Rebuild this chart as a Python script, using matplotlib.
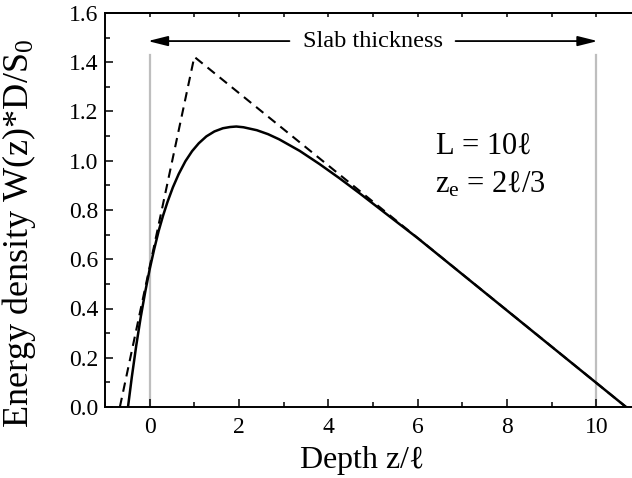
import matplotlib
matplotlib.use("Agg")
import matplotlib.pyplot as plt
from matplotlib.ticker import MultipleLocator, FormatStrFormatter

plt.rcParams['font.family'] = ['Liberation Serif', 'DejaVu Serif']
plt.rcParams['mathtext.fontset'] = 'stix'
plt.rcParams['mathtext.default'] = 'regular'

# Energy density for the exponential source (solid curve)
solid_z = [-0.485, -0.4, -0.3, -0.2, -0.1, 0.0, 0.1, 0.2, 0.3, 0.4, 0.52, 0.65,
           0.8, 0.95, 1.1, 1.27, 1.45, 1.64, 1.8, 1.94, 2.1, 2.4, 2.65, 2.9,
           3.36, 3.8, 4.25, 4.7, 5.37, 6.0, 7.0, 8.0, 9.0, 10.0, 10.667]
solid_w = [0.0, 0.121, 0.250, 0.365, 0.467, 0.559, 0.640, 0.714, 0.777, 0.833, 0.892, 0.946,
           0.998, 1.039, 1.071, 1.099, 1.119, 1.132, 1.137, 1.139, 1.136, 1.124, 1.108, 1.087,
           1.040, 0.987, 0.929, 0.868, 0.774, 0.686, 0.539, 0.392, 0.245, 0.098, 0.0]

# Point source at z = l (dashed triangle)
dashed_z = [-0.667, 1.0, 10.667]
dashed_w = [0.0, 1.422, 0.0]

# Slab faces
faces = [0, 10]
face_top = 1.43

fig = plt.figure(figsize=(6.32, 4.78), dpi=100)
ax = fig.add_axes([105/632, 71/478, 527/632, 394/478])

for zf in faces:
    ax.plot([zf, zf], [0, face_top], color='#bebebe', lw=1.6, zorder=1)

ax.plot(dashed_z, dashed_w, color='black', lw=1.5, linestyle=(0, (4.5, 3)), zorder=2)
ax.plot(solid_z, solid_w, color='black', lw=1.8, zorder=3)

ax.set_xlim(-1.0, 10.8)
ax.set_ylim(0, 1.6)

ax.xaxis.set_major_locator(MultipleLocator(2))
ax.xaxis.set_minor_locator(MultipleLocator(1))
ax.yaxis.set_major_locator(MultipleLocator(0.2))
ax.yaxis.set_minor_locator(MultipleLocator(0.1))
ax.yaxis.set_major_formatter(FormatStrFormatter('%.1f'))

ax.tick_params(which='both', direction='in', width=1.1, labelsize=17)
ax.tick_params(which='major', length=6)
ax.tick_params(which='minor', length=3.6)
ax.tick_params(axis='x', pad=7)
ax.tick_params(axis='y', pad=5)

for s in ['left', 'bottom', 'top']:
    ax.spines[s].set_linewidth(1.4)
ax.spines['right'].set_visible(False)

top = ax.secondary_xaxis('top')
top.set_xticks(range(0, 11))
top.tick_params(direction='in', length=3, width=1.1, labeltop=False)
top.spines['top'].set_linewidth(1.4)

ax.set_xlabel(r'Depth z/$\ell$', fontsize=23)
ax.set_ylabel('Energy density W(z)*D/S$_0$', fontsize=26)
ax.xaxis.set_label_coords(0.486, -0.095)
ax.yaxis.set_label_coords(-0.128, 0.44)

# Slab thickness arrows
arrow_y = 1.486
ax.text(5.0, arrow_y, 'Slab thickness', fontsize=17.5, ha='center', va='center')
head = '-|>,head_length=1.2,head_width=0.3'
ax.annotate('', xy=(faces[0] - 0.04, arrow_y), xytext=(3.13, arrow_y),
            arrowprops=dict(arrowstyle=head, lw=1.3, color='black', shrinkA=0, shrinkB=0))
ax.annotate('', xy=(faces[1] + 0.03, arrow_y), xytext=(6.85, arrow_y),
            arrowprops=dict(arrowstyle=head, lw=1.3, color='black', shrinkA=0, shrinkB=0))

ax.text(6.38, 1.03, r'L = 10$\ell$', fontsize=22, ha='left', va='baseline')
ax.text(6.38, 0.87, r'z$_e$ = 2$\ell$/3', fontsize=22, ha='left', va='baseline')

fig.savefig('out.png', dpi=100)
